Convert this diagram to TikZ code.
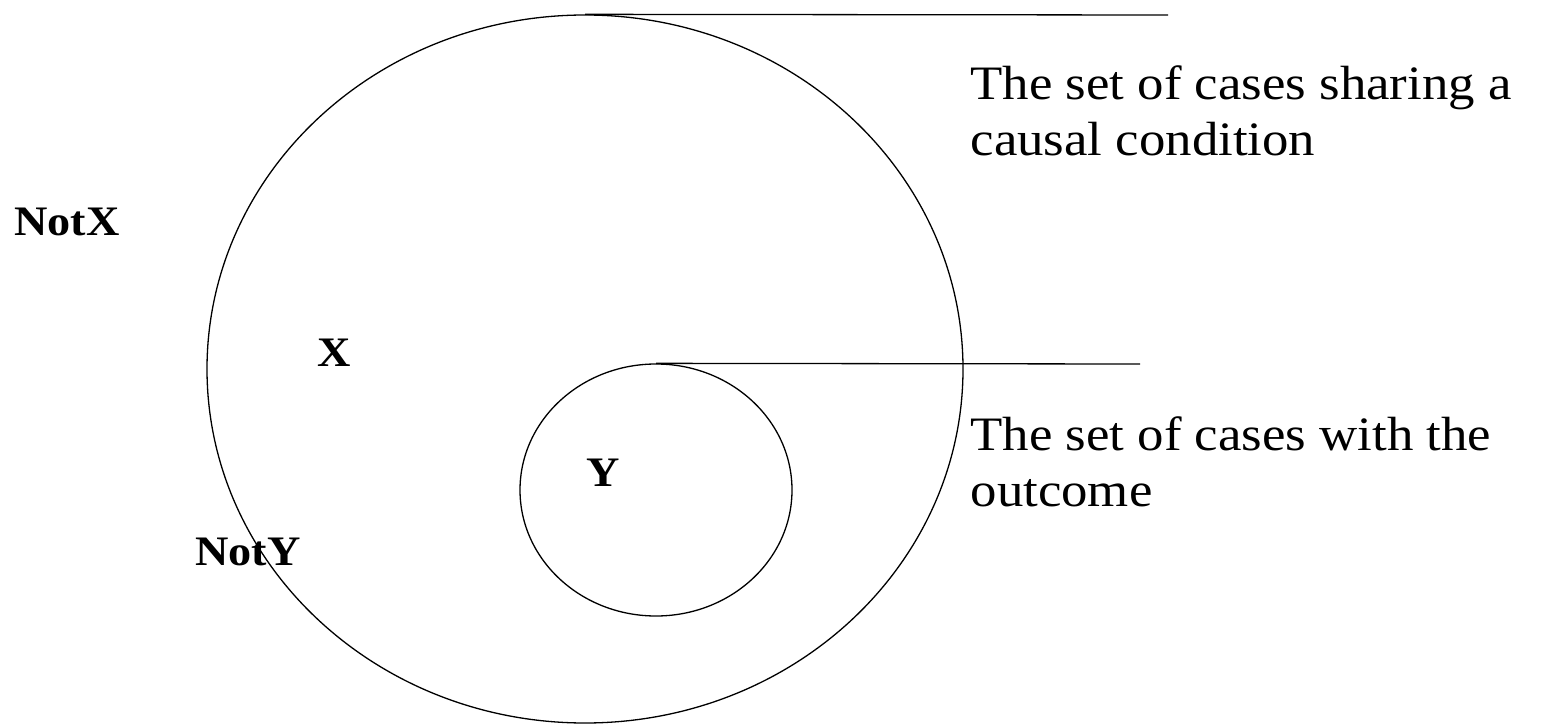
\documentclass[tikz,border=0pt]{standalone}
\usepackage{fontspec}
\setmainfont{Liberation Serif}[FakeStretch=1.1]
\usetikzlibrary{shapes.geometric}
\begin{document}
\begin{tikzpicture}[x=1pt, y=-1pt, line width=1.3pt,
                    set/.style={ellipse, draw, inner sep=0pt},
                    lbl/.style={font=\fontsize{42}{50}\selectfont\bfseries},
                    note/.style={font=\fontsize{48}{56}\selectfont, align=left,
                                 anchor=north west, inner sep=0pt}]
\useasboundingbox (0,0) rectangle (1547,727);
\node[set, minimum width=756pt, minimum height=708pt] (cond) at (585,369) {};
\node[set, minimum width=272pt, minimum height=252pt] (out) at (656,490) {};
\coordinate (condend) at (1168,15);
\coordinate (outend) at (1140,364);
\draw (cond.north) -- (condend);
\draw (out.north) -- (outend);
\node[note] (condtxt) at (970,65) {The set of cases sharing a\\causal condition};
\node[note] (outtxt) at (970,416) {The set of cases with the\\outcome};
\node[lbl] (notx) at (67,222) {NotX};
\node[lbl] (x) at (334,353) {X};
\node[lbl] (y) at (603,473) {Y};
\node[lbl] (noty) at (248,552) {NotY};
\end{tikzpicture}
\end{document}
